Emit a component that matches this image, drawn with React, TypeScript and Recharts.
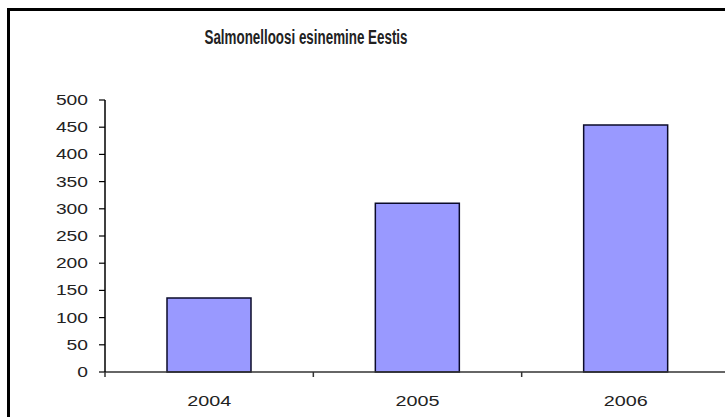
import { Bar, BarChart, XAxis, YAxis } from "recharts";

const years = ["2004", "2005", "2006"];
const cases = [136, 310, 454];
const caseTicks = [0, 50, 100, 150, 200, 250, 300, 350, 400, 450, 500];

const CHART_W = 725;
const CHART_H = 417;
const MARGIN = { top: 100, right: 0, left: 0, bottom: 15 };
const Y_AXIS_W = 105;
// the category band runs a little past the right edge of the chart
const X_PAD = { left: 0, right: -5 };
const BAND =
  (CHART_W - MARGIN.left - MARGIN.right - Y_AXIS_W - X_PAD.left - X_PAD.right) /
  years.length;

const FONT = "'Liberation Sans', Arial, sans-serif";
const INK = "#222";
const DIGIT_W = 10.7;

const data = years.map((year, i) => ({ year, cases: cases[i] }));

// wide digits, stretched to the width of the printed labels
const CaseTick = (props: any) => {
  const { x, y, payload } = props;
  const label = String(payload.value);
  return (
    <text
      x={x}
      y={y}
      dy={5}
      textAnchor="end"
      fontFamily={FONT}
      fontSize={15}
      fill={INK}
      textLength={label.length * DIGIT_W}
      lengthAdjust="spacingAndGlyphs"
    >
      {label}
    </text>
  );
};

// year label in the middle of the band, tick mark on the band's left edge
const YearTick = (props: any) => {
  const { x, y, payload } = props;
  const label = String(payload.value);
  const edge = x - BAND / 2;
  return (
    <g>
      <line x1={edge} y1={y} x2={edge} y2={y + 5} stroke="#333" strokeWidth={1.5} />
      <text
        x={x}
        y={y + 34}
        textAnchor="middle"
        fontFamily={FONT}
        fontSize={15}
        fill={INK}
        textLength={label.length * 11}
        lengthAdjust="spacingAndGlyphs"
      >
        {label}
      </text>
    </g>
  );
};

const App = () => {
  return (
    <div
      style={{
        position: "fixed",
        left: 0,
        top: 0,
        width: 725,
        height: 417,
        overflow: "hidden",
        background: "#fff",
      }}
    >
      <svg
        width={725}
        height={417}
        style={{ position: "absolute", left: 0, top: 0, display: "block" }}
      >
        {/* frame: only the left and top edges fall inside the page */}
        <rect x={7} y={8} width={3} height={409} fill="#000" />
        <rect x={7} y={8} width={718} height={3} fill="#000" />
        <text
          x={306}
          y={44}
          textAnchor="middle"
          fontFamily={FONT}
          fontSize={20}
          fontWeight="bold"
          fill={INK}
          textLength={203}
          lengthAdjust="spacingAndGlyphs"
        >
          Salmonelloosi esinemine Eestis
        </text>
      </svg>
      <div style={{ position: "absolute", left: 0, top: 0 }}>
        <BarChart width={CHART_W} height={CHART_H} data={data} margin={MARGIN}>
          <XAxis
            dataKey="year"
            height={30}
            interval={0}
            padding={X_PAD}
            tickSize={0}
            tickMargin={0}
            tickLine={false}
            axisLine={{ stroke: "#333", strokeWidth: 1.5 }}
            tick={<YearTick />}
          />
          <YAxis
            width={Y_AXIS_W}
            domain={[0, 500]}
            ticks={caseTicks}
            interval={0}
            tickSize={6}
            tickMargin={11}
            axisLine={{ stroke: "#000", strokeWidth: 1.5 }}
            tickLine={{ stroke: "#000", strokeWidth: 1.2 }}
            tick={<CaseTick />}
          />
          <Bar
            dataKey="cases"
            fill="#9999ff"
            stroke="#0b0b2a"
            strokeWidth={1.5}
            barSize={84}
            isAnimationActive={false}
          />
        </BarChart>
      </div>
    </div>
  );
};

export default App;
